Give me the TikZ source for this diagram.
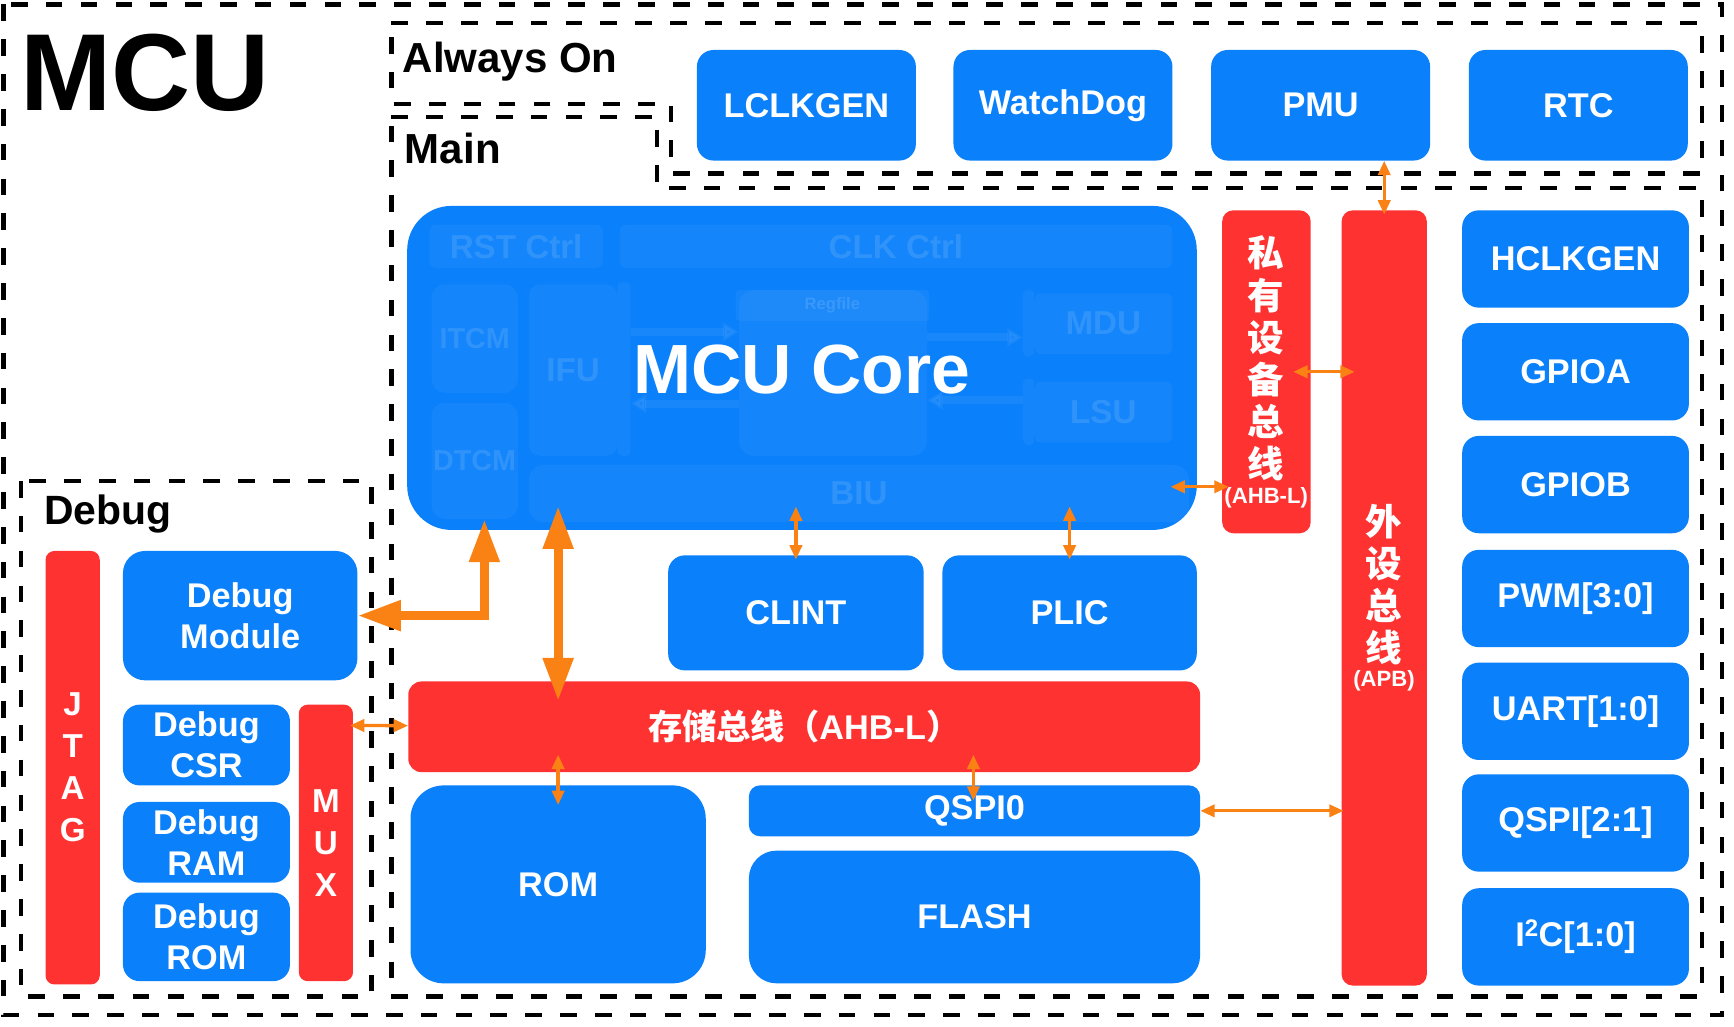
\documentclass[tikz,border=0pt]{standalone}
\usepackage{fontspec}
\setmainfont{Liberation Sans}
\newfontfamily\cjk{Noto Sans CJK SC}
\usetikzlibrary{arrows.meta,calc}
\definecolor{cblue}{RGB}{10,128,250}
\definecolor{cred}{RGB}{255,50,50}
\definecolor{corange}{RGB}{250,130,20}
\tikzset{
  blk/.style={rectangle, rounded corners=15pt, fill=cblue, text=white, inner sep=0pt, anchor=north west, align=center, font=\bfseries\fontsize{31}{37}\selectfont},
  rbar/.style={blk, fill=cred, rounded corners=10pt},
  zone/.style={draw=black, line width=4pt, dash pattern=on 15pt off 16.5pt},
  zlabel/.style={anchor=base west, inner sep=0pt, font=\bfseries\fontsize{38}{40}\selectfont},
  vtxt/.style={text=white, inner sep=0pt, align=center},
  thinarr/.style={draw=corange, line width=3pt, {Triangle[length=13pt,width=11pt]}-{Triangle[length=13pt,width=11pt]}},
  thickarr/.style={draw=corange, line width=8pt, {Triangle[length=39pt,width=26pt]}-{Triangle[length=39pt,width=26pt]}},
  faintbox/.style={rectangle, rounded corners=6pt, fill=white, fill opacity=0.045, anchor=north west, inner sep=0pt},
  fainttxt/.style={text=white, text opacity=0.12, font=\bfseries\fontsize{30}{32}\selectfont, inner sep=0pt},
  faintarr/.style={draw=white, opacity=0.06, line width=7pt, -{Triangle[length=14pt,width=16pt]}},
}
\begin{document}
\begin{tikzpicture}[x=1pt,y=-1pt]
\useasboundingbox (0,0) rectangle (1568,928);
\fill[white] (0,0) rectangle (1568,928);

% zones
\draw[zone] (3,4) rectangle (1557,918);
\draw[zone] (354,21) -- (1539,21) -- (1539,157) -- (607,157) -- (607,94) -- (354,94) -- cycle;
\draw[zone] (354,106) -- (594,106) -- (594,170) -- (1539,170) -- (1539,901) -- (354,901) -- cycle;
\draw[zone] (19,435) rectangle (336,901);

% labels
\node[anchor=base west, inner sep=0pt, font=\bfseries\fontsize{99}{100}\selectfont] (mculbl) at (18,100) {MCU};
\node[zlabel] (aolbl) at (364,66) {Always On};
\node[zlabel] (mainlbl) at (366,148) {Main};
\node[zlabel, font=\bfseries\fontsize{37}{40}\selectfont] (dbglbl) at (40,474) {Debug};

% Always On blocks
\node[blk, minimum width=198pt, minimum height=100pt] (lclk) at (630,45) {LCLKGEN};
\node[blk, minimum width=198pt, minimum height=100pt] (wdog) at (862,45) {WatchDog};
\node[blk, minimum width=198pt, minimum height=100pt] (pmu) at (1095,45) {PMU};
\node[blk, minimum width=198pt, minimum height=100pt] (rtc) at (1328,45) {RTC};

% peripherals
\node[blk, minimum width=205pt, minimum height=88pt] (hclk) at (1322,190) {HCLKGEN};
\node[blk, minimum width=205pt, minimum height=88pt] (gpioa) at (1322,292) {GPIOA};
\node[blk, minimum width=205pt, minimum height=88pt] (gpiob) at (1322,394) {GPIOB};
\node[blk, minimum width=205pt, minimum height=88pt] (pwm) at (1322,497) {PWM[3:0]};
\node[blk, minimum width=205pt, minimum height=88pt] (uart) at (1322,599) {UART[1:0]};
\node[blk, minimum width=205pt, minimum height=88pt] (qspi) at (1322,700) {QSPI[2:1]};
\node[blk, minimum width=205pt, minimum height=88pt] (iic) at (1322,803) {I\textsuperscript{2}C[1:0]};

% buses
\node[rbar, minimum width=80pt, minimum height=292pt] (priv) at (1105,190) {};
\node[vtxt, font=\cjk\bfseries\fontsize{33}{38}\selectfont] (privtxt) at (1145,324) {私\\有\\设\\备\\总\\线};
\node[vtxt, font=\bfseries\fontsize{20}{22}\selectfont] (privsub) at (1145,450) {(AHB-L)};
\node[rbar, minimum width=77pt, minimum height=701pt] (apb) at (1213,190) {};
\node[vtxt, font=\cjk\bfseries\fontsize{33}{38}\selectfont] (apbtxt) at (1251.5,529) {外\\设\\总\\线};
\node[vtxt, font=\bfseries\fontsize{20}{22}\selectfont] (apbsub) at (1251.5,616) {(APB)};

% core
\node[blk, rounded corners=40pt, minimum width=714pt, minimum height=293pt] (core) at (368,186) {};
\node[faintbox, minimum width=157pt, minimum height=39pt] (rst) at (388,203) {};
\node[fainttxt] (rstlbl) at (rst.center) {RST Ctrl};
\node[faintbox, minimum width=500pt, minimum height=39pt] (clk) at (560,203) {};
\node[fainttxt] (clklbl) at (clk.center) {CLK Ctrl};
\node[faintbox, rounded corners=12pt, minimum width=78pt, minimum height=98pt] (itcm) at (390,257) {};
\node[fainttxt, font=\bfseries\fontsize{26}{28}\selectfont] (itcmlbl) at (itcm.center) {ITCM};
\node[faintbox, rounded corners=12pt, minimum width=78pt, minimum height=105pt] (dtcm) at (390,364) {};
\node[fainttxt, font=\bfseries\fontsize{26}{28}\selectfont] (dtcmlbl) at (dtcm.center) {DTCM};
\node[faintbox, rounded corners=10pt, minimum width=80pt, minimum height=155pt] (ifu) at (478,257) {};
\node[fainttxt] (ifulbl) at (ifu.center) {IFU};
\node[faintbox, rounded corners=4pt, minimum width=12pt, minimum height=157pt] (ifubar) at (558,255) {};
\node[faintbox, rounded corners=14pt, minimum width=170pt, minimum height=150pt] (exu) at (668,262) {};
\node[faintbox, rounded corners=3pt, minimum width=175pt, minimum height=28pt] (regf) at (665,262) {};
\node[fainttxt, font=\bfseries\fontsize{15}{16}\selectfont] (regflbl) at (regf.center) {Regfile};
\node[faintbox, rounded corners=4pt, minimum width=10pt, minimum height=60pt] (mdubar) at (925,262) {};
\node[faintbox, minimum width=125pt, minimum height=55pt] (mdu) at (935,265) {};
\node[fainttxt] (mdulbl) at (mdu.center) {MDU};
\node[faintbox, rounded corners=4pt, minimum width=10pt, minimum height=60pt] (lsubar) at (925,342) {};
\node[faintbox, minimum width=125pt, minimum height=55pt] (lsu) at (935,345) {};
\node[fainttxt] (lsulbl) at (lsu.center) {LSU};
\node[faintbox, rounded corners=14pt, minimum width=597pt, minimum height=52pt] (biu) at (478,420) {};
\node[fainttxt] (biulbl) at (biu.center) {BIU};
\draw[faintarr] (ifubar.east |- 0,300) -- (exu.west |- 0,300);
\draw[faintarr] (exu.west |- 0,365) -- (ifubar.east |- 0,365);
\draw[faintarr] (exu.east |- 0,305) -- (mdubar.west |- 0,305);
\draw[faintarr] (lsubar.west |- 0,362) -- (exu.east |- 0,362);
\node[text=white, inner sep=0pt, font=\bfseries\fontsize{63}{66}\selectfont] (coretxt) at (725,334) {MCU Core};

\node[blk, minimum width=231pt, minimum height=104pt] (clint) at (604,502) {CLINT};
\node[blk, minimum width=230pt, minimum height=104pt] (plic) at (852,502) {PLIC};
\node[rbar, rounded corners=12pt, minimum width=716pt, minimum height=82pt] (mbus) at (369,616) {{\cjk 存储总线（}AHB-L{\cjk ）}};
\node[blk, rounded corners=30pt, minimum width=267pt, minimum height=179pt] (rom) at (371,710) {ROM};
\node[blk, rounded corners=10pt, minimum width=408pt, minimum height=46pt] (qspi0) at (677,710) {QSPI0};
\node[blk, rounded corners=25pt, minimum width=408pt, minimum height=120pt] (flash) at (677,769) {FLASH};

% debug
\node[rbar, rounded corners=8pt, minimum width=49pt, minimum height=392pt, font=\bfseries\fontsize{30}{38}\selectfont] (jtag) at (41,498) {J\\T\\A\\G};
\node[blk, rounded corners=20pt, minimum width=212pt, minimum height=117pt] (dbgmod) at (111,498) {Debug\\Module};
\node[blk, minimum width=151pt, minimum height=73pt] (dcsr) at (111,637) {Debug\\CSR};
\node[blk, minimum width=151pt, minimum height=73pt] (dram) at (111,725) {Debug\\RAM};
\node[blk, minimum width=151pt, minimum height=80pt] (drom) at (111,807) {Debug\\ROM};
\node[rbar, rounded corners=8pt, minimum width=49pt, minimum height=250pt, font=\bfseries\fontsize{30}{38}\selectfont] (mux) at (270,637) {M\\U\\X};

% connectors
\draw[thinarr] (pmu.south -| apb.north) -- ($(apb.north)+(0,4)$);
\draw[thinarr] ($(priv.east)+(-16,0)$) -- ($(priv.east -| apb.west)+(12,0)$);
\coordinate (pcl) at ($(priv.west)+(6,104)$);
\draw[thinarr] ($(pcl -| core.east)+(-24,0)$) -- (pcl);
\draw[thinarr] ($(clint.north)+(0,-44)$) -- ($(clint.north)+(0,4)$);
\draw[thinarr] ($(plic.north)+(0,-44)$) -- ($(plic.north)+(0,4)$);
\draw[thickarr] ($(rom.north |- core.south)+(0,-22)$) -- ($(rom.north |- mbus.north)+(0,18)$);
\draw[thickarr] (dbgmod.east) -| ($(core.south west)+(70,-10)$);
\draw[thinarr] ($(mux.north east)+(-3,19)$) -- ($(mbus.west)+(0,-1)$);
\draw[thinarr] ($(rom.north |- mbus.south)+(0,-16)$) -- ($(rom.north)+(0,18)$);
\draw[thinarr] ($(qspi0.north |- mbus.south)+(-1,-16)$) -- ($(qspi0.north)+(-1,14)$);
\draw[thinarr] (qspi0.east) -- ($(qspi0.east -| apb.west)+(2,0)$);
\end{tikzpicture}
\end{document}
